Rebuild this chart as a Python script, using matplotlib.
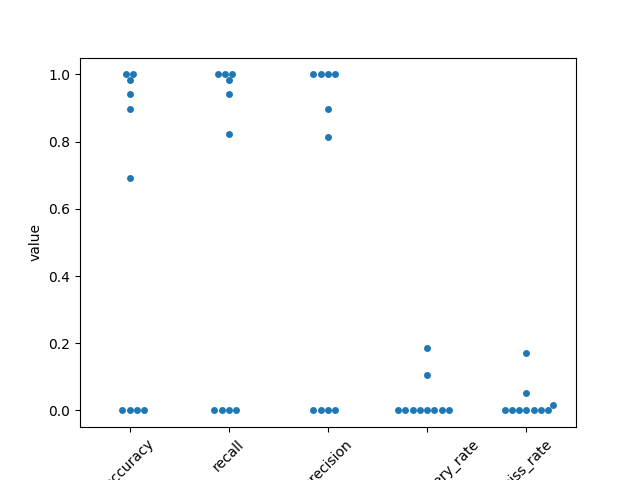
import matplotlib
matplotlib.use("Agg")
import matplotlib.pyplot as plt
import pandas as pd
import seaborn as sns

# per-run metric values
accuracy = [1.0, 1.0, 0.982, 0.943, 0.896, 0.693, 0.0, 0.0, 0.0, 0.0]
recall = [1.0, 1.0, 1.0, 0.982, 0.943, 0.824, 0.0, 0.0, 0.0, 0.0]
precision = [1.0, 1.0, 1.0, 1.0, 0.896, 0.815, 0.0, 0.0, 0.0, 0.0]
false_discovery_rate = [0.0, 0.0, 0.0, 0.0, 0.0, 0.0, 0.104, 0.185, 0.0, 0.0]
miss_rate = [0.0, 0.0, 0.0, 0.015, 0.053, 0.172, 0.0, 0.0, 0.0, 0.0]

df = pd.DataFrame({
    "accuracy": accuracy,
    "recall": recall,
    "precision": precision,
    "false_discovery_rate": false_discovery_rate,
    "miss_rate": miss_rate,
})
long = df.melt(var_name="variable", value_name="value")

fig, ax = plt.subplots(figsize=(6.4, 4.8), dpi=100)
sns.swarmplot(data=long, x="variable", y="value", ax=ax)
plt.xticks(rotation=45)

fig.savefig("out.png")
plt.close(fig)
